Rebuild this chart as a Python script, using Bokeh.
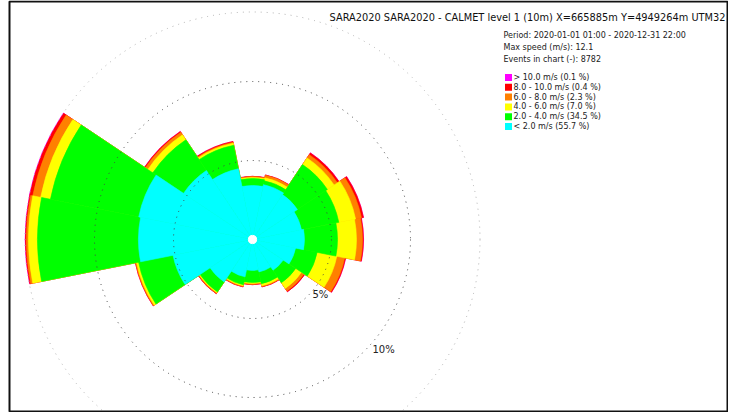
import numpy as np
from bokeh.plotting import figure
from bokeh.models import Range1d, Label, ColumnDataSource
from bokeh.core.properties import value
from bokeh.embed import file_html
from bokeh.resources import INLINE

# ---------------- data (frequency in % per direction sector and speed class) -------------
directions = ["N", "NNE", "NE", "ENE", "E", "ESE", "SE", "SSE",
              "S", "SSW", "SW", "WSW", "W", "WNW", "NW", "NNW"]
bearings = [0.0, 22.5, 45.0, 67.5, 90.0, 112.5, 135.0, 157.5,
            180.0, 202.5, 225.0, 247.5, 270.0, 292.5, 315.0, 337.5]
sector_width = 22.5

lt_2 = [3.42, 3.54, 3.42, 3.16, 3.29, 2.78, 2.34, 2.09,
        1.96, 2.41, 3.23, 5.13, 7.22, 7.34, 5.25, 4.56]
s2_4 = [0.44, 0.25, 2.28, 2.41, 2.09, 1.39, 0.95, 0.76,
        0.76, 0.51, 0.76, 2.22, 6.39, 5.70, 2.34, 1.52]
s4_6 = [0.06, 0.19, 0.51, 1.08, 1.20, 1.27, 0.44, 0.13,
        0.06, 0.06, 0.06, 0.13, 0.57, 0.63, 0.38, 0.13]
s6_8 = [0.06, 0.16, 0.25, 0.38, 0.38, 0.51, 0.19, 0.06,
        0.06, 0.06, 0.06, 0.06, 0.13, 0.51, 0.19, 0.06]
s8_10 = [0.02, 0.03, 0.13, 0.13, 0.06, 0.06, 0.06, 0.02,
         0.02, 0.02, 0.02, 0.02, 0.06, 0.19, 0.06, 0.06]
gt_10 = [0.00, 0.00, 0.01, 0.01, 0.01, 0.01, 0.00, 0.00,
         0.00, 0.00, 0.00, 0.00, 0.02, 0.03, 0.01, 0.00]

class_colors = ["#00FFFF", "#00FF00", "#FFFF00", "#FF8000", "#FF0000", "#FF00FF"]
legend_labels = ["> 10.0 m/s (0.1 %)", "8.0 - 10.0 m/s (0.4 %)", "6.0 - 8.0 m/s (2.3 %)",
                 "4.0 - 6.0 m/s (7.0 %)", "2.0 - 4.0 m/s (34.5 %)", "< 2.0 m/s (55.7 %)"]
legend_colors = ["#FF00FF", "#FF0000", "#FF8000", "#FFFF00", "#00FF00", "#00FFFF"]

ring_values = [5, 10]
ring_labels = ["5%", "10%"]

title_text = "SARA2020 SARA2020 - CALMET level 1 (10m) X=665885m Y=4949264m UTM32"
info_lines = ["Period: 2020-01-01 01:00 - 2020-12-31 22:00",
              "Max speed (m/s): 12.1",
              "Events in chart (-): 8782"]

# ---------------- layout -------------------------------------------------------------
W, H = 728, 412
K = 15.8            # pixels per percent
CX, CY = 252, 239   # rose centre, pixels from top-left
FONT = "DejaVu Sans"


def px(x):
    return (x - CX) / K


def py(y):
    return (CY - y) / K


p = figure(width=W, height=H, output_backend="svg", toolbar_location=None,
           x_range=Range1d(px(0), px(W)), y_range=Range1d(py(H), py(0)),
           x_axis_type=None, y_axis_type=None, min_border=0)
p.outline_line_color = None
p.background_fill_color = "white"
p.border_fill_color = "white"

bands = np.array([lt_2, s2_4, s4_6, s6_8, s8_10, gt_10])
cum = np.cumsum(bands, axis=0)
b = np.array(bearings)
start = np.deg2rad(90.0 - b - sector_width / 2)
end = np.deg2rad(90.0 - b + sector_width / 2)

for j in range(len(bands) - 1, -1, -1):
    src = ColumnDataSource(dict(x=np.zeros(len(b)), y=np.zeros(len(b)),
                                r=cum[j], s=start, e=end))
    p.wedge(x="x", y="y", radius="r", start_angle="s", end_angle="e", source=src,
            fill_color=class_colors[j], line_color=class_colors[j], line_width=0.6)

# centre hole
p.circle(x=[0], y=[0], radius=[0.26], fill_color="white", line_color="white")

# dotted rings at 5 % and 10 %
p.circle(x=[0] * len(ring_values), y=[0] * len(ring_values), radius=ring_values,
         fill_color=None, line_color="#444444", line_dash="1 5", line_width=1)
# faint outer limit at the maximum total
rmax = float(cum[-1].max())
p.circle(x=[0], y=[0], radius=[rmax], fill_color=None,
         line_color="#b0b0b0", line_dash="1 5", line_width=1)

lab_b = np.deg2rad(132.5)
for rv, rl in zip(ring_values, ring_labels):
    rr = rv * 1.03
    p.add_layout(Label(x=rr * np.sin(lab_b), y=rr * np.cos(lab_b), text=rl,
                       text_font=FONT, text_font_size="10px", text_color="#222222",
                       text_align="left", text_baseline="middle"))

# frame
p.quad(left=[px(9)], right=[px(727)], top=[py(1)], bottom=[py(411)],
       fill_color=None, line_color="#111111", line_width=2)

# title
p.add_layout(Label(x=px(725), y=py(17), text=title_text, text_font=FONT,
                   text_font_size="9.8px", text_color="#111111",
                   text_align="right", text_baseline="middle"))

# info lines
for i, t in enumerate(info_lines):
    p.add_layout(Label(x=px(503), y=py(35 + 12 * i), text=t, text_font=FONT,
                       text_font_size="8px", text_color="#222222",
                       text_align="left", text_baseline="middle"))

# legend
n = len(legend_labels)
ly = [77 + 9.8 * i for i in range(n)]
p.scatter(x=[px(508)] * n, y=[py(v) for v in ly], marker="square", size=7,
          fill_color=legend_colors, line_color=None)
lsrc = ColumnDataSource(dict(x=[px(513)] * n, y=[py(v) for v in ly], t=legend_labels))
p.text(x="x", y="y", text="t", source=lsrc, text_font=value(FONT),
       text_font_size="8px", text_color="#222222", text_align="left",
       text_baseline="middle")

open("out.html", "w").write(file_html(p, INLINE))
